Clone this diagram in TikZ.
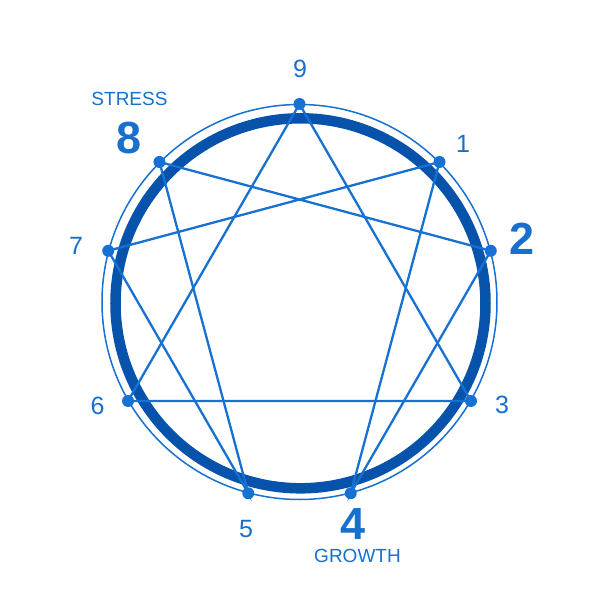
\documentclass[tikz,border=0pt]{standalone}
\usepackage{fontspec}
\setmainfont{Liberation Sans}
\definecolor{lineblue}{HTML}{1771D2}
\definecolor{ringblue}{HTML}{0753AC}
\definecolor{textblue}{HTML}{1870CE}
\begin{document}
\begin{tikzpicture}[x=1pt,y=1pt,
  ptdot/.style={circle,fill=lineblue,inner sep=0pt,minimum size=12pt},
  conn/.style={draw=lineblue,line width=2.3pt},
  numlabel/.style={text=textblue,inner sep=0pt,font=\fontsize{25}{25}\selectfont},
  bignum/.style={text=textblue,inner sep=0pt,font=\fontsize{45}{45}\selectfont\bfseries},
  wordlabel/.style={text=textblue,inner sep=0pt,font=\fontsize{19}{19}\selectfont}]
\useasboundingbox (-299.5,-298) rectangle (300.5,302);
\fill[white] (-299.5,-298) rectangle (300.5,302);
% rings
\draw[lineblue,line width=1.5pt] (0,0) circle[radius=197.5];
\draw[ringblue,line width=10.5pt] (1,-1.3) circle[radius=185];
% points
\foreach \n/\a in {9/90,1/45,2/15,3/-30,4/-75,5/-105,6/-150,7/165,8/135}
  \coordinate (c\n) at (\a:198);
% connectors
\draw[conn] (c9) -- (c3) -- (c6) -- cycle;
\draw[conn] (c1) -- (c4) -- (c2) -- (c8) -- (c5) -- (c7) -- cycle;
\foreach \n in {9,1,2,3,4,5,6,7,8}
  \node[ptdot] (p\n) at (c\n) {};
% labels
\node[numlabel] (l9) at (0.5,233) {9};
\node[numlabel] (l1) at (163.5,158) {1};
\node[bignum] (l2) at (222.5,63.5) {2};
\node[numlabel] (l3) at (202.5,-103) {3};
\node[bignum] (l4) at (54,-222.5) {4};
\node[numlabel] (l5) at (-53.5,-227) {5};
\node[numlabel] (l6) at (-202,-103.5) {6};
\node[numlabel] (l7) at (-223.5,56) {7};
\node[bignum] (l8) at (-170,164) {8};
\node[wordlabel] (stress) at (-170,203) {STRESS};
\node[wordlabel] (growth) at (58,-254) {GROWTH};
\end{tikzpicture}
\end{document}
